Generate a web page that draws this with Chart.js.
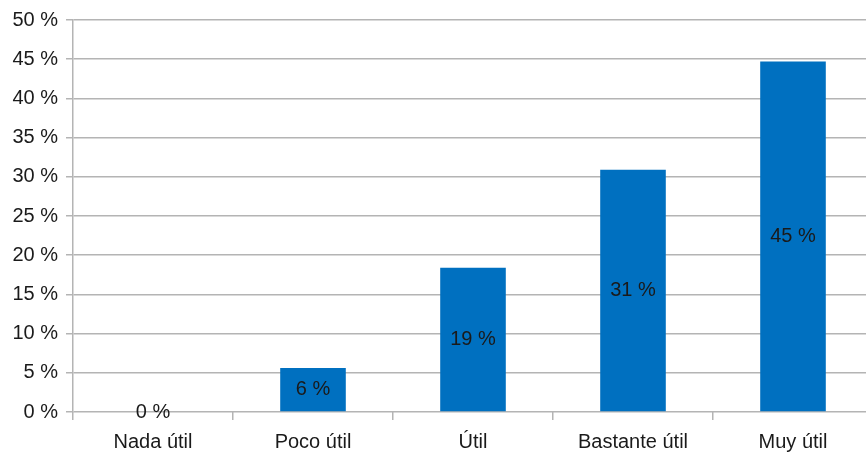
<!DOCTYPE html>
<html>
<head>
<meta charset="utf-8">
<script src="https://cdn.jsdelivr.net/npm/chart.js@4/dist/chart.umd.min.js"></script>
<style>
  html, body { margin: 0; padding: 0; background: #fff; overflow: hidden; }
  #wrap { width: 873px; height: 452px; }
</style>
</head>
<body>
<div id="wrap"><canvas id="chart"></canvas></div>
<script>
// Chart data
const categories = ['Nada útil', 'Poco útil', 'Útil', 'Bastante útil', 'Muy útil'];
const values = [0, 5.6, 18.4, 30.9, 44.7];
const valueLabels = ['0 %', '6 %', '19 %', '31 %', '45 %'];
const yTicks = [0, 5, 10, 15, 20, 25, 30, 35, 40, 45, 50];

const FONT = '"Liberation Sans", Arial, sans-serif';

// Draw value labels centered inside each bar
const barLabels = {
  id: 'barLabels',
  afterDatasetsDraw(chart) {
    const ctx = chart.ctx;
    const meta = chart.getDatasetMeta(0);
    ctx.save();
    ctx.font = '20px ' + FONT;
    ctx.fillStyle = '#1a1a1a';
    ctx.textAlign = 'center';
    ctx.textBaseline = 'middle';
    meta.data.forEach((bar, i) => {
      const y = (bar.y + bar.base) / 2;
      ctx.fillText(valueLabels[i], bar.x, y);
    });
    ctx.restore();
  }
};

new Chart(document.getElementById('chart'), {
  type: 'bar',
  data: {
    labels: categories,
    datasets: [{
      data: values,
      backgroundColor: '#0070c0',
      barPercentage: 0.41,
      categoryPercentage: 1
    }]
  },
  options: {
    responsive: true,
    maintainAspectRatio: false,
    animation: false,
    layout: { padding: { top: 20, right: 0, bottom: 0, left: 0 } },
    plugins: {
      legend: { display: false },
      tooltip: { enabled: false }
    },
    scales: {
      x: {
        afterFit: s => { s.height = 40; },
        grid: { drawOnChartArea: false, tickLength: 8, color: '#b4b4b4', lineWidth: 1.5 },
        border: { display: false },
        ticks: {
          color: '#1a1a1a',
          padding: 10,
          font: { size: 20, family: FONT }
        }
      },
      y: {
        min: 0,
        max: 50,
        afterFit: s => { s.width = 73; },
        afterBuildTicks: s => { s.ticks = yTicks.map(v => ({ value: v })); },
        grid: { color: '#b4b4b4', lineWidth: 1.5, tickLength: 7 },
        border: { color: '#b4b4b4', width: 1.5 },
        ticks: {
          color: '#1a1a1a',
          padding: 8,
          font: { size: 20, family: FONT },
          callback: v => v + ' %'
        }
      }
    }
  },
  plugins: [barLabels]
});
</script>
</body>
</html>
